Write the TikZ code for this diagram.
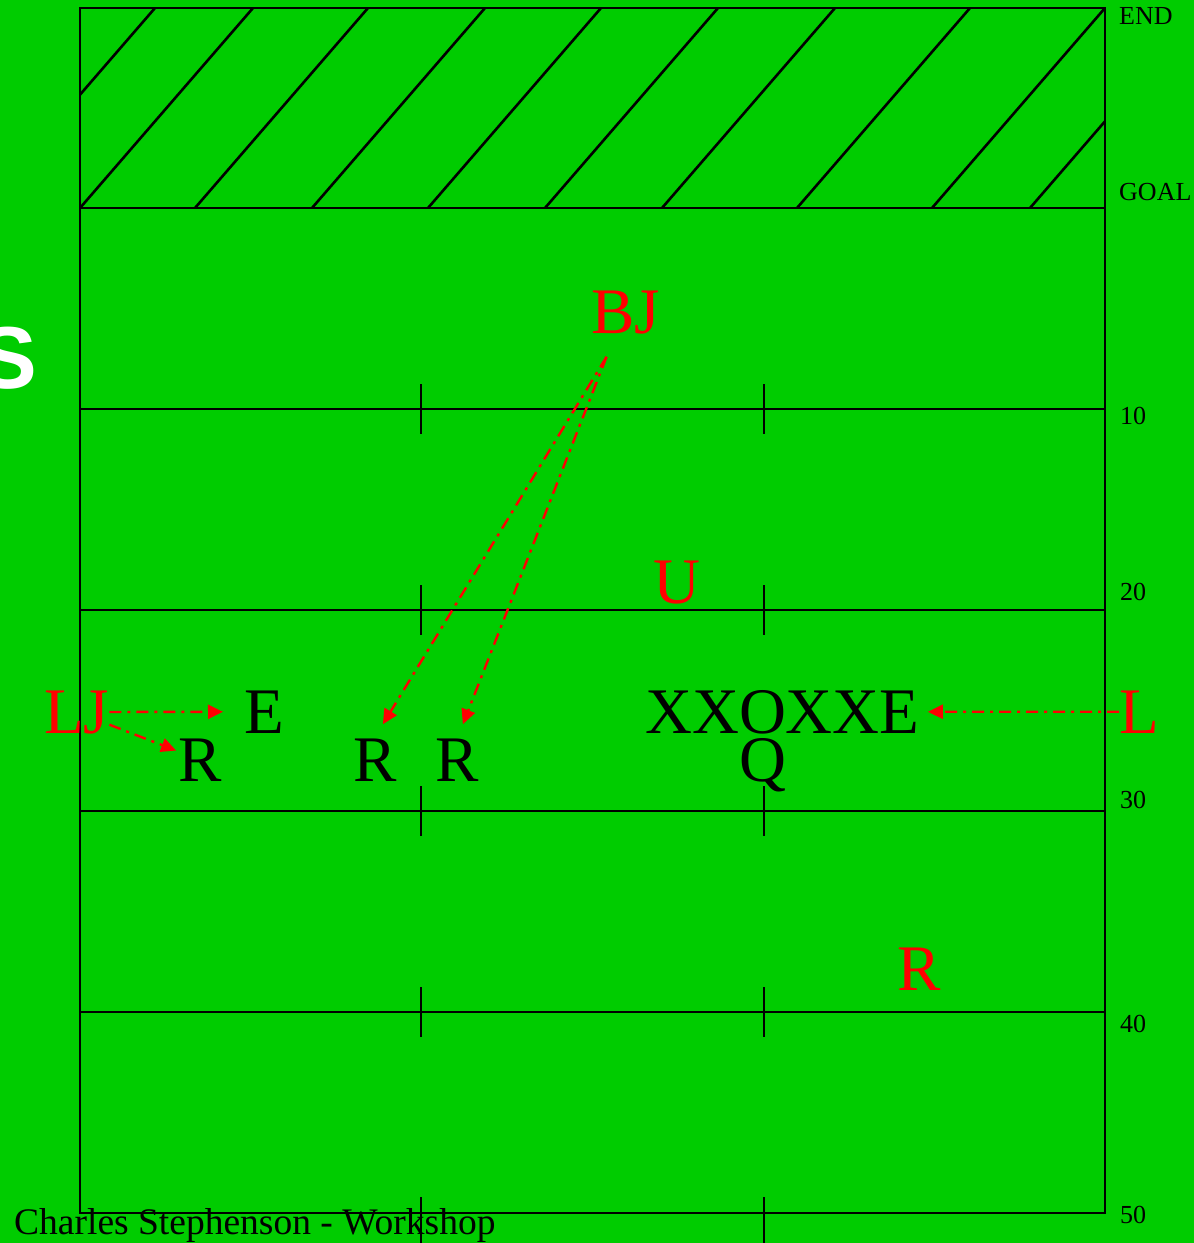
\documentclass[tikz,border=0pt]{standalone}
\usepackage{fontspec}
\setmainfont{Liberation Serif}
\newfontfamily\bannerfont{Liberation Sans}
\usetikzlibrary{arrows.meta,calc}
\definecolor{turf}{RGB}{0,204,0}
\definecolor{callred}{RGB}{255,0,0}

\begin{document}
\begin{tikzpicture}[
    x=1pt, y=-1pt,
    player/.style={inner sep=0pt, anchor=base west, font=\fontsize{65}{65}\selectfont},
    caller/.style={player, text=callred},
    yard/.style={inner sep=0pt, anchor=base west, font=\fontsize{26}{26}\selectfont},
    fieldline/.style={line width=2.6pt},
    play/.style={->, callred, line width=2.4pt, dash pattern=on 12pt off 6pt on 3pt off 6pt},
    >={Triangle[length=15pt,width=14pt]}
  ]
    \useasboundingbox (0,0) rectangle (1194,1243);
    \fill[turf] (0,0) rectangle (1194,1243);
    \clip (0,0) rectangle (1194,1243);

    % end zone hatching
    \begin{scope}
      \clip (80,8) rectangle (1105,208);
      \foreach \xb in {-18,80,195,312,428,545,662,797,932,1030}
        \draw[fieldline] (\xb,208) -- ++(173,-200);
    \end{scope}

    % field, yard lines and hash marks
    \draw[fieldline] (80,8) rectangle (1105,1213);
    \foreach \yl in {208,409,610,811,1012}
      \draw[fieldline] (80,\yl) -- (1105,\yl);
    \foreach \yl in {409,610,811,1012}
      \foreach \xl in {421,764}
        \draw[fieldline] (\xl,\yl-25) -- (\xl,\yl+25);
    \foreach \xl in {421,764}
      \draw[fieldline] (\xl,1197) -- (\xl,1243);

    % yard labels
    \node[yard] (endlbl) at (1119,24) {END};
    \node[yard] (goallbl) at (1119,200) {GOAL};
    \node[yard] (ten) at (1120,424) {10};
    \node[yard] (twenty) at (1120,600) {20};
    \node[yard] (thirty) at (1120,808) {30};
    \node[yard] (forty) at (1120,1032) {40};
    \node[yard] (fifty) at (1120,1223) {50};

    \node[inner sep=0pt, anchor=base east, text=white, font=\bannerfont\bfseries\fontsize{88}{88}\selectfont] (banner) at (37,388) {S};

    % offense
    \node[player] (e1) at (244,733) {E};
    \node[player] (r1) at (178,781) {R};
    \node[player] (r2) at (353,781) {R};
    \node[player] (r3) at (435,781) {R};
    \node[player] (oline) at (645,733) {XXOXXE};
    \node[player] (qb) at (739,781) {Q};

    % defense
    \node[caller] (lj) at (44,733) {LJ};
    \node[caller] (l) at (1119,733) {L};
    \node[caller] (bj) at (591,333) {BJ};
    \node[caller] (u) at (653,603) {U};
    \node[caller] (r4) at (897,990) {R};

    \draw[play, shorten >=21pt] (lj) -- (e1);
    \draw[play, shorten >=2pt] (lj) -- (r1);
    \draw[play] ($(bj.south)+(-19,23)$) -- ($(r2.north)+(8,-14)$);
    \draw[play] ($(bj.south)+(-19,23)$) -- ($(r3.north)+(6,-14)$);
    \draw[play, shorten >=8pt] (l) -- (oline);

    \node[inner sep=0pt, anchor=base west, font=\fontsize{37.5}{37.5}\selectfont] (credit) at (14,1234) {Charles Stephenson - Workshop};
  \end{tikzpicture}
\end{document}
